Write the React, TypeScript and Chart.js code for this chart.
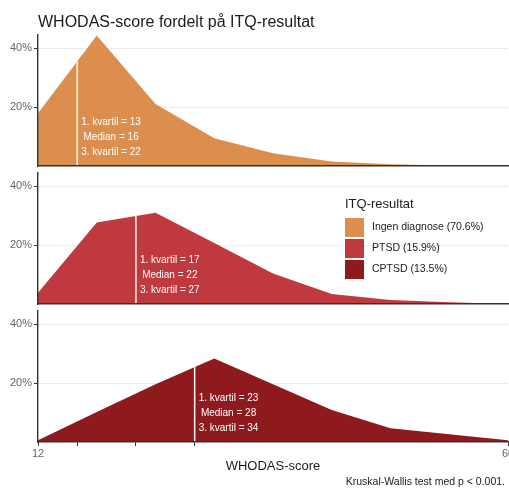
import { useEffect, useRef } from "react";
import { Chart, registerables } from "chart.js";

Chart.register(...registerables);

// ---------------- data ----------------
const scoreBins = [12, 18, 24, 30, 36, 42, 48, 54, 60];
const ingenDiagnosePct = [17.9, 44.3, 21.1, 9.4, 4.3, 1.5, 0.6, 0.2, 0.0];
const ptsdPct = [3.8, 27.7, 31.0, 20.7, 10.4, 3.4, 1.4, 0.6, 0.0];
const cptsdPct = [0.6, 10.2, 19.6, 28.4, 19.6, 10.9, 4.7, 2.6, 0.6];
const groupLabels = ["Ingen diagnose (70.6%)", "PTSD (15.9%)", "CPTSD (13.5%)"];
const firstQuartiles = [13, 17, 23];
const medians = [16, 22, 28];
const thirdQuartiles = [22, 27, 34];
const yTickValues = [20, 40];
const xTickValues = [12, 16, 22, 28, 60];
const xLabelledTicks = [12, 60];
const titleText = "WHODAS-score fordelt på ITQ-resultat";
const legendTitle = "ITQ-resultat";
const xAxisTitle = "WHODAS-score";
const captionText = "Kruskal-Wallis test med p < 0.001.";

const seriesValues = [ingenDiagnosePct, ptsdPct, cptsdPct];

// ---------------- styles / layout ----------------
const fillColors = ["#DB8E4E", "#C0393E", "#8F1A1E"];
const FONT = "'Liberation Sans', Arial, Helvetica, sans-serif";
const X_MIN = 12;
const X_MAX = 60;
const Y_MAX = 44.5;
const W = 509;
const H = 489;
const AXIS_LEFT = 38;
const X_AXIS_HEIGHT = 47;
const panels = [
  { top: 0, height: 170, padTop: 35, padBottom: 4 },
  { top: 170, height: 137, padTop: 3, padBottom: 3 },
  { top: 307, height: 182, padTop: 4, padBottom: 0 },
];

Chart.defaults.font.family = FONT;

function interpolate(xs: number[], ys: number[], x: number): number {
  for (let i = 0; i < xs.length - 1; i++) {
    if (x >= xs[i] && x <= xs[i + 1]) {
      const t = (x - xs[i]) / (xs[i + 1] - xs[i]);
      return ys[i] + t * (ys[i + 1] - ys[i]);
    }
  }
  return 0;
}

function zeroPadding(s: any) {
  s.paddingLeft = 0;
  s.paddingRight = 0;
  s.paddingTop = 0;
  s.paddingBottom = 0;
}

function panelPlugin(idx: number) {
  return {
    id: "panelText" + idx,
    afterDatasetsDraw(chart: any) {
      const ctx = chart.ctx;
      const xs = chart.scales.x;
      const area = chart.chartArea;
      const px = xs.getPixelForValue(medians[idx]);
      const lines = [
        `1. kvartil = ${firstQuartiles[idx]}`,
        `Median = ${medians[idx]}`,
        `3. kvartil = ${thirdQuartiles[idx]}`,
      ];
      ctx.save();
      ctx.font = `10px ${FONT}`;
      ctx.fillStyle = "#ffffff";
      ctx.textAlign = "center";
      ctx.textBaseline = "middle";
      const maxW = Math.max(...lines.map((l) => ctx.measureText(l).width));
      const cx = px + 4 + maxW / 2;
      const offs = [43.3, 28.5, 13.7];
      lines.forEach((l, i) => ctx.fillText(l, cx, area.bottom - offs[i]));
      ctx.restore();
    },
    afterDraw(chart: any) {
      const ctx = chart.ctx;
      ctx.save();
      if (idx === 0) {
        ctx.font = `16px ${FONT}`;
        ctx.fillStyle = "#1a1a1a";
        ctx.textAlign = "left";
        ctx.textBaseline = "alphabetic";
        ctx.fillText(titleText, AXIS_LEFT, 26.5);
      }
      if (idx === 1) {
        ctx.font = `13px ${FONT}`;
        ctx.fillStyle = "#1a1a1a";
        ctx.textAlign = "left";
        ctx.textBaseline = "alphabetic";
        ctx.fillText(legendTitle, 345, 38);
        groupLabels.forEach((lab, i) => {
          const top = 48 + i * 21;
          ctx.fillStyle = fillColors[i];
          ctx.fillRect(345, top, 19, 19);
          ctx.fillStyle = "#1a1a1a";
          ctx.font = `10.5px ${FONT}`;
          ctx.textBaseline = "middle";
          ctx.fillText(lab, 372, top + 9.5);
        });
      }
      if (idx === 2) {
        ctx.font = `10.5px ${FONT}`;
        ctx.fillStyle = "#1a1a1a";
        ctx.textAlign = "right";
        ctx.textBaseline = "middle";
        ctx.fillText(captionText, 505, 175);
      }
      ctx.restore();
    },
  };
}

function buildConfig(idx: number): any {
  const isBottom = idx === 2;
  const p = panels[idx];
  const vals = seriesValues[idx];
  const m = medians[idx];
  return {
    type: "line",
    data: {
      datasets: [
        {
          data: [
            { x: m, y: 0 },
            { x: m, y: interpolate(scoreBins, vals, m) },
          ],
          borderColor: "#fbf8f4",
          borderWidth: 1.5,
          pointRadius: 0,
          fill: false,
          order: 0,
        },
        {
          data: scoreBins.map((x, i) => ({ x, y: vals[i] })),
          backgroundColor: fillColors[idx],
          borderColor: "rgba(0,0,0,0)",
          borderWidth: 0,
          pointRadius: 0,
          fill: "origin",
          tension: 0,
          order: 1,
        },
      ],
    },
    options: {
      responsive: false,
      animation: false,
      devicePixelRatio: 1,
      events: [],
      layout: { padding: { top: p.padTop, bottom: p.padBottom, left: 0, right: 1 } },
      plugins: {
        legend: { display: false },
        tooltip: { enabled: false },
        title: { display: false },
      },
      scales: {
        x: {
          type: "linear",
          min: X_MIN,
          max: X_MAX,
          afterBuildTicks: (s: any) => {
            s.ticks = isBottom ? xTickValues.map((v) => ({ value: v })) : [];
          },
          afterFit: (s: any) => {
            s.height = isBottom ? X_AXIS_HEIGHT : 0;
            zeroPadding(s);
          },
          ticks: {
            display: isBottom,
            autoSkip: false,
            maxRotation: 0,
            padding: 1,
            color: "#666666",
            font: { size: 11 },
            callback: (v: number) => (xLabelledTicks.includes(v) ? String(v) : ""),
          },
          grid: {
            display: isBottom,
            drawOnChartArea: false,
            drawTicks: true,
            tickLength: 4,
            tickColor: "#333333",
          },
          border: { display: true, color: "#333333", width: 1.4, z: 1 },
          title: {
            display: isBottom,
            text: xAxisTitle,
            color: "#1a1a1a",
            font: { size: 13 },
            padding: { top: 0, bottom: 15.2 },
          },
        },
        y: {
          type: "linear",
          min: 0,
          max: Y_MAX,
          afterBuildTicks: (s: any) => {
            s.ticks = yTickValues.map((v) => ({ value: v }));
          },
          afterFit: (s: any) => {
            s.width = AXIS_LEFT;
            zeroPadding(s);
          },
          ticks: {
            color: "#666666",
            font: { size: 11 },
            padding: 2,
            callback: (v: number) => v + "%",
          },
          grid: {
            color: "#ebebeb",
            lineWidth: 1,
            drawTicks: true,
            tickLength: 4,
            tickColor: "#333333",
          },
          border: { display: true, color: "#333333", width: 1.4, z: 1 },
        },
      },
    },
    plugins: [panelPlugin(idx)],
  };
}

function Panel({ idx }: { idx: number }) {
  const ref = useRef<HTMLCanvasElement | null>(null);
  useEffect(() => {
    if (!ref.current) return;
    const chart = new Chart(ref.current, buildConfig(idx));
    return () => chart.destroy();
  }, [idx]);
  const p = panels[idx];
  return (
    <canvas
      ref={ref}
      width={W}
      height={p.height}
      style={{ position: "absolute", left: 0, top: p.top, width: W, height: p.height, display: "block" }}
    />
  );
}

export default function App() {
  return (
    <div style={{ position: "absolute", left: 0, top: 0, width: W, height: H, background: "#ffffff", overflow: "hidden" }}>
      {panels.map((_, i) => (
        <Panel key={i} idx={i} />
      ))}
    </div>
  );
}
